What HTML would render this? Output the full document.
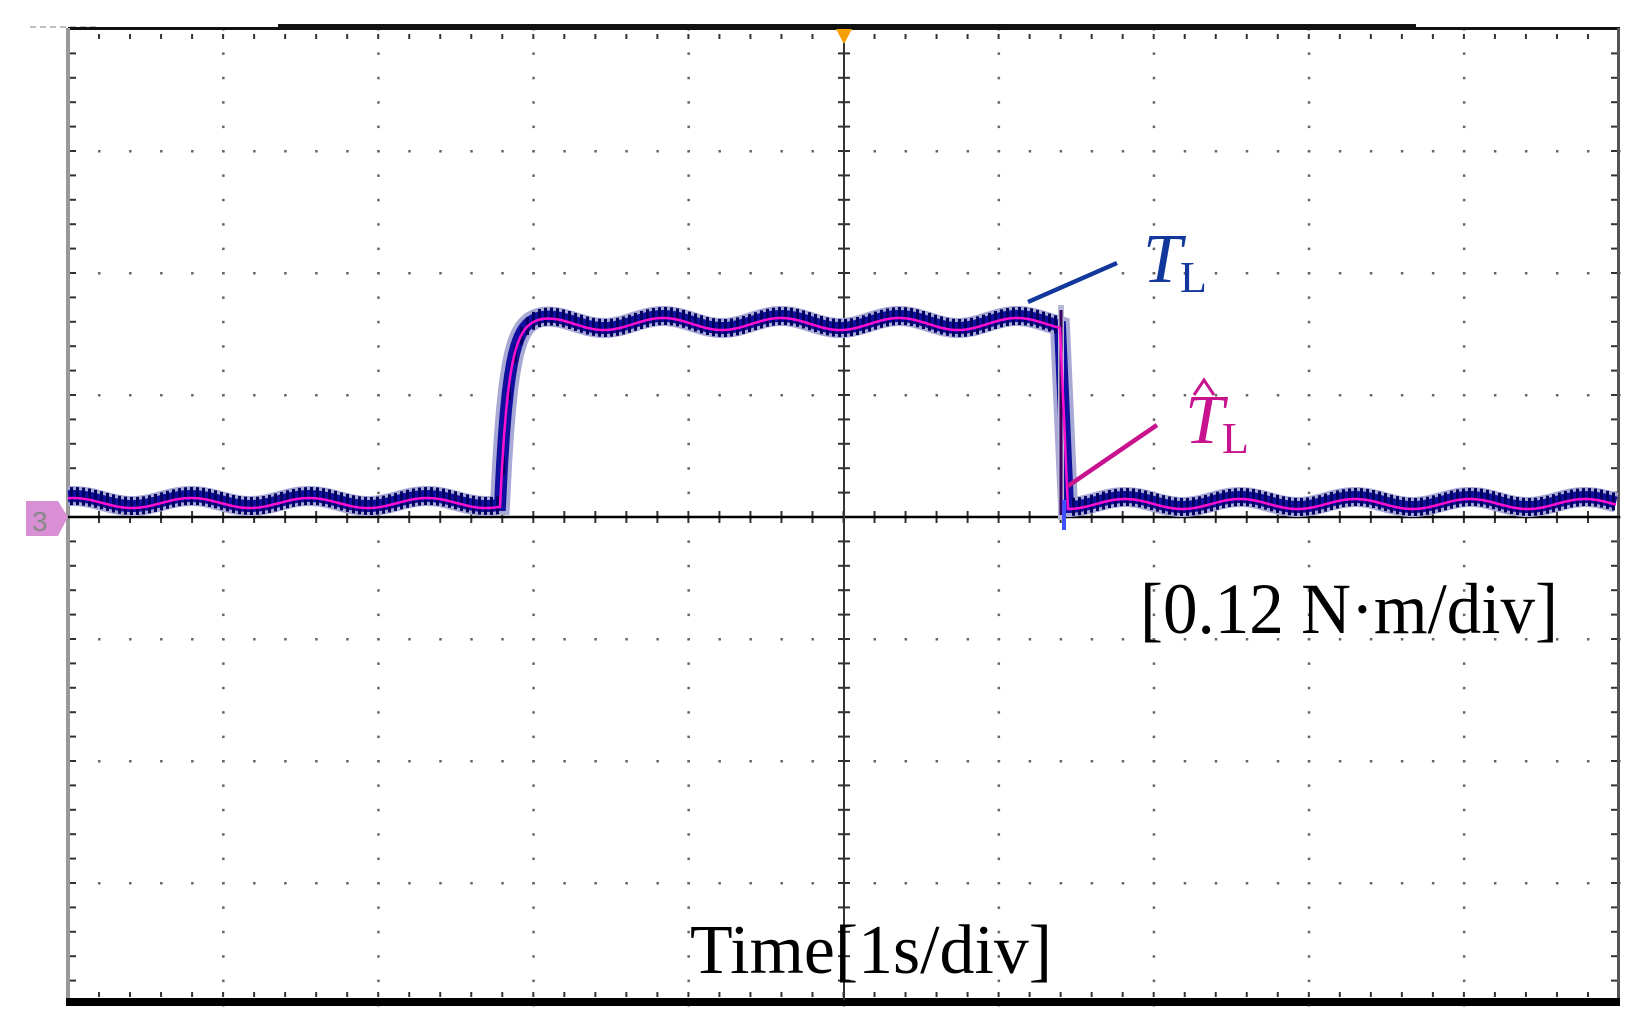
<!DOCTYPE html>
<html><head><meta charset="utf-8"><style>
html,body{margin:0;padding:0;background:#fff;}
svg{display:block;}
</style></head><body>
<svg id="s" width="1641" height="1025" viewBox="0 0 1641 1025" xmlns="http://www.w3.org/2000/svg">
<rect width="1641" height="1025" fill="#fff"/>
<g id="grid"></g>
<line x1="30" y1="27" x2="100" y2="27" stroke="#aaa" stroke-width="1.5" stroke-dasharray="6,4"/>
<line x1="68" y1="28.5" x2="1620" y2="28.5" stroke="#111" stroke-width="3"/>
<rect x="278" y="24" width="1138" height="5" fill="#111"/>
<rect x="66" y="28" width="4" height="978" fill="#999"/>
<rect x="1617" y="28" width="3" height="978" fill="#555"/>
<rect x="66" y="998" width="1554" height="8" fill="#000"/>
<line x1="68" y1="517" x2="1620" y2="517" stroke="#000" stroke-width="2.5"/>
<line x1="844" y1="29" x2="844" y2="1000" stroke="#333" stroke-width="2"/>
<polygon points="836,29 852,29 844,44" fill="#f5a000"/>
<polygon points="26,501 58,501 68,517 58,536 26,536" fill="#d98fd4"/>
<text x="32" y="531" font-family="Liberation Sans, sans-serif" font-size="28" fill="#888">3</text>
<g id="tr"></g>
<line x1="1028" y1="302" x2="1117" y2="263" stroke="#13389c" stroke-width="4.5"/>
<line x1="1068" y1="486" x2="1157" y2="425" stroke="#c8138f" stroke-width="4.5"/>
<text x="1143" y="282" font-family="Liberation Serif, serif" font-style="italic" font-size="70" fill="#13389c">T</text>
<text x="1180" y="292" font-family="Liberation Serif, serif" font-size="44" fill="#13389c">L</text>
<text x="1185" y="443" font-family="Liberation Serif, serif" font-style="italic" font-size="70" fill="#c8138f">T</text>
<polyline points="1194,395 1204,380 1214,395" fill="none" stroke="#c8138f" stroke-width="3"/>
<text x="1222" y="453" font-family="Liberation Serif, serif" font-size="44" fill="#c8138f">L</text>
<text x="1140" y="633" font-family="Liberation Serif, serif" font-size="72" textLength="418" lengthAdjust="spacingAndGlyphs" fill="#000">[0.12 N·m/div]</text>
<text x="690" y="973" font-family="Liberation Serif, serif" font-size="70" textLength="362" lengthAdjust="spacingAndGlyphs" fill="#000">Time[1s/div]</text>
</svg>
<script>
const L=68,R=1619,T=29,B=1005,dx=(R-L)/10,dy=(B-T)/8;
let h='';
for(let i=1;i<10;i++){const x=L+i*dx;for(let y=T;y<B;y+=dy/5){h+=`<rect x="${x-1}" y="${y-1}" width="2.5" height="2.5" fill="#666"/>`;}}
for(let j=1;j<8;j++){const y=T+j*dy;for(let x=L;x<R;x+=dx/5){h+=`<rect x="${x-1}" y="${y-1}" width="2.5" height="2.5" fill="#666"/>`;}}
for(let y=T;y<B;y+=dy/5){h+=`<rect x="70" y="${y-1}" width="6" height="2" fill="#333"/><rect x="1611" y="${y-1}" width="6" height="2" fill="#333"/><rect x="838" y="${y-1}" width="12" height="2" fill="#333"/>`;}
for(let x=L;x<R;x+=dx/5){h+=`<rect x="${x-1}" y="34" width="2" height="5" fill="#333"/><rect x="${x-1}" y="992" width="2" height="5" fill="#333"/><rect x="${x-1}" y="511" width="2" height="12" fill="#333"/>`;}
document.getElementById('grid').innerHTML=h;
function f(x){
 if(x<500){return 501-5*Math.cos(2*Math.PI*(x-73)/118);}
 if(x<1061){const hi=322-6*Math.cos(2*Math.PI*(x-545)/118);const k=1-Math.exp(-(x-500)/8);const lo=505;return lo+(hi-lo)*k;}
 return 502-5*Math.cos(2*Math.PI*(x-1125)/115);
}
let p='',pm='';
for(let x=68;x<=1617;x+=2){if(x>1061&&x<1067)continue;const y=f(x);p+=(p?'L':'M')+x+','+y.toFixed(1);pm+=(pm?'L':'M')+x+','+(y+2).toFixed(1);}
let noise='';
for(let x=70;x<=1615;x+=6){if(x>1058&&x<1068)continue;const y=f(x);noise+=`<rect x="${x}" y="${(y-9).toFixed(1)}" width="3" height="18" fill="#000060"/>`;}
document.getElementById('tr').innerHTML=`<path d="${p}" fill="none" stroke="#a9a9d6" stroke-width="20"/>`+
`<path d="${p}" fill="none" stroke="#1010a0" stroke-width="12"/>`+noise+
`<line x1="1061" y1="305" x2="1061" y2="520" stroke="#b8b8d4" stroke-width="6"/>`+
`<line x1="1061" y1="310" x2="1061" y2="515" stroke="#3a0060" stroke-width="3"/>`+
`<line x1="1064" y1="500" x2="1064" y2="530" stroke="#4050ff" stroke-width="4"/>`+
`<path d="${pm}" fill="none" stroke="#ff10d0" stroke-width="2.5"/>`;
</script>
</body></html>
